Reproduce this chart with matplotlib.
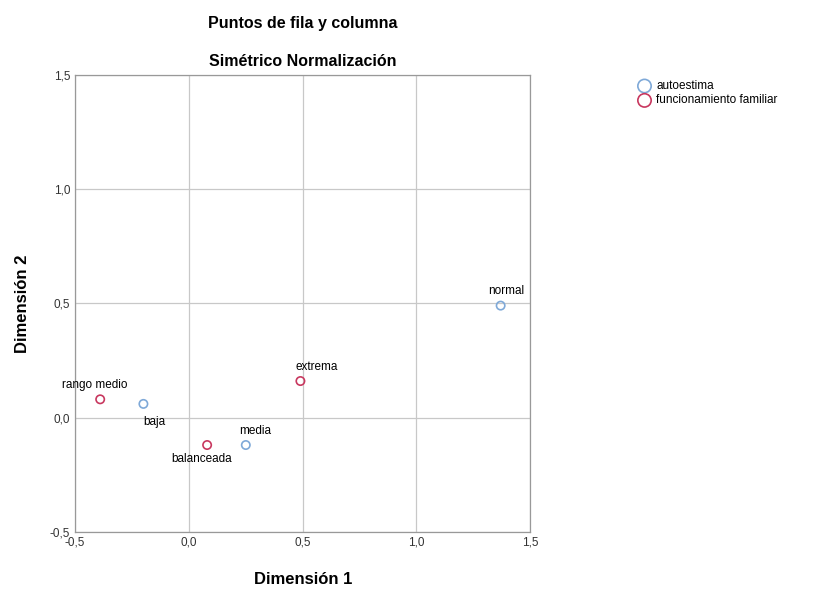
import numpy as np
import matplotlib.pyplot as plt

plt.rcParams['font.family'] = ['Liberation Sans', 'DejaVu Sans']

# row points (autoestima)
auto_labels = ['baja', 'media', 'normal']
auto_x = [-0.20, 0.25, 1.37]
auto_y = [0.06, -0.12, 0.49]

# column points (funcionamiento familiar)
fam_labels = ['rango medio', 'balanceada', 'extrema']
fam_x = [-0.39, 0.08, 0.49]
fam_y = [0.08, -0.12, 0.16]

ticks = [-0.5, 0.0, 0.5, 1.0, 1.5]
tick_labels = ['-0,5', '0,0', '0,5', '1,0', '1,5']

blue = '#7fa9d8'
red = '#c8385f'

fig = plt.figure(figsize=(8.35, 5.89), dpi=100)
ax = fig.add_axes([0.090, 0.097, 0.545, 0.776])

ax.scatter(auto_x, auto_y, s=36, facecolors='none', edgecolors=blue,
           linewidths=1.2, zorder=3, label='autoestima')
ax.scatter(fam_x, fam_y, s=36, facecolors='none', edgecolors=red,
           linewidths=1.2, zorder=3, label='funcionamiento familiar')

# label placement (offsets in points)
offsets = {
    'baja': (0, -9, 'left', 'top'),
    'media': (7, 6, 'center', 'bottom'),
    'normal': (4, 6, 'center', 'bottom'),
    'rango medio': (-4, 6, 'center', 'bottom'),
    'balanceada': (-4, -6, 'center', 'top'),
    'extrema': (12, 6, 'center', 'bottom'),
}
for lab, x, y in zip(auto_labels + fam_labels, auto_x + fam_x, auto_y + fam_y):
    dx, dy, ha, va = offsets[lab]
    ax.annotate(lab, (x, y), xytext=(dx, dy), textcoords='offset points',
                ha=ha, va=va, fontsize=8.5)

ax.set_xlim(-0.5, 1.5)
ax.set_ylim(-0.5, 1.5)
ax.set_xticks(ticks)
ax.set_xticklabels(tick_labels)
ax.set_yticks(ticks)
ax.set_yticklabels(tick_labels)
ax.tick_params(length=0, labelsize=8.5, colors='#333333')
ax.grid(True, color='#c8c8c8', linewidth=0.9)
ax.set_axisbelow(True)
for s in ax.spines.values():
    s.set_color('#999999')
    s.set_linewidth(0.9)

ax.set_xlabel('Dimensión 1', fontsize=12, fontweight='bold', labelpad=17)
ax.set_ylabel('Dimensión 2', fontsize=12, fontweight='bold', labelpad=14)

fig.text(0.362, 0.960, 'Puntos de fila y columna', ha='center', va='center',
         fontsize=11.5, fontweight='bold')
fig.text(0.362, 0.895, 'Simétrico Normalización', ha='center', va='center',
         fontsize=11.5, fontweight='bold')

leg = fig.legend(loc='upper left', bbox_to_anchor=(0.745, 0.882), frameon=False,
                 fontsize=8.5, handletextpad=0.0, labelspacing=0.2,
                 markerscale=1.6)

plt.savefig('out.png', dpi=100)
